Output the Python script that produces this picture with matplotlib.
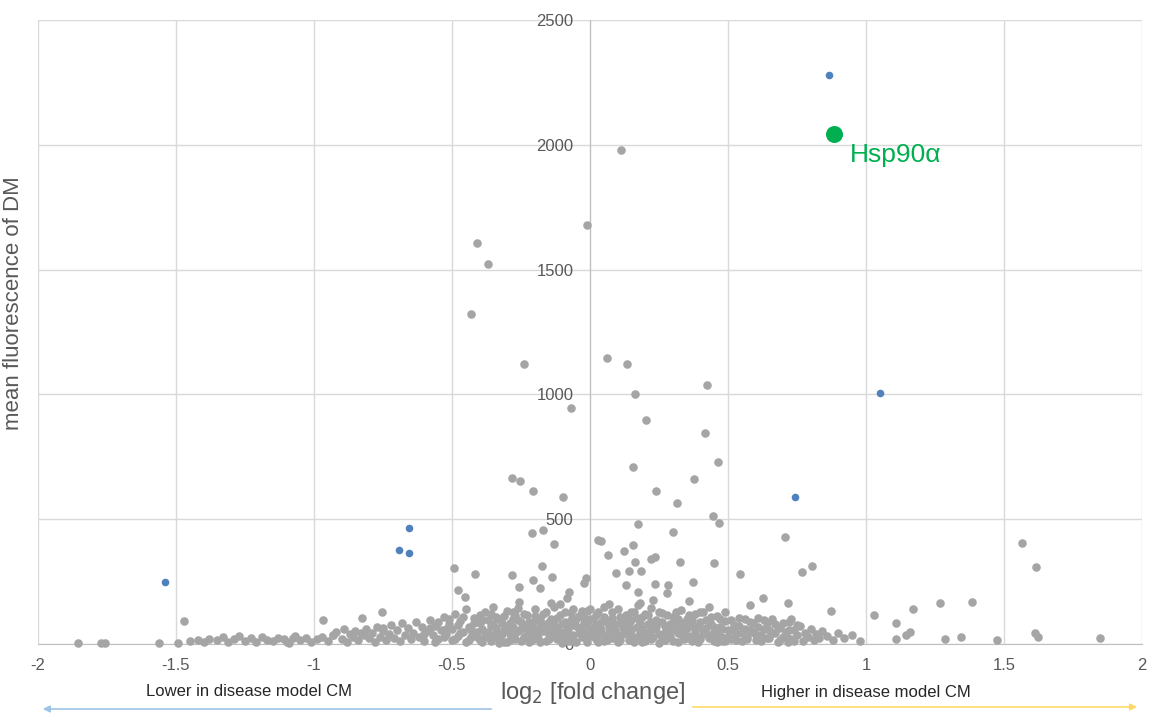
import numpy as np
import matplotlib
matplotlib.use("Agg")
import matplotlib.pyplot as plt

plt.rcParams['font.family'] = ['Liberation Sans', 'DejaVu Sans']

# ---- data ----
# isolated grey proteins above the dense band
outlier_x = [0.112, -0.011, -0.409, -0.370, -0.431, -0.239, -0.069,
             0.062, 0.134, 0.424, 0.163, 0.203, 0.417, 0.156, 0.464, 0.377, 0.239, 0.315,
             -0.283, -0.254, -0.207, -0.098, -0.210, -0.170, -0.130, -0.493, -0.417, -0.174, 0.029,
             0.446, 0.467, 0.174, 0.301, 0.707, 0.040, 0.156, 0.123, 0.065, 0.236,
             0.221, 0.163, 0.326, 0.449, 0.185, 0.094, 0.141, 0.543, 0.768, 0.804,
             0.373, 0.236, 0.130, 0.283, 0.174, 0.279, 0.627, 0.717, 0.580, 0.174, 0.228,
             0.873, 1.029, 1.170, 1.268, 1.384, 1.109, 1.159, 1.145, 1.109, 1.286,
             1.344, 1.475, 1.623, 1.612, 1.848, 1.616, 1.565, 0.717,
             -1.854, -1.770, -1.757, -1.562, -1.493, -1.471, -0.967, -0.931, -0.826, -0.754,
             -0.478, -0.453, -0.284, -0.257, -0.208, -0.181, -0.138, -0.257, -0.143, -0.076,
             -0.083, -0.022, -0.014, -1.076, -1.098]
outlier_y = [1979, 1678, 1606, 1522, 1322, 1122, 945,
             1146, 1122, 1038, 1002, 897, 845, 709, 729, 661, 613, 565,
             665, 653, 613, 589, 445, 457, 401, 304, 280, 312, 417,
             513, 485, 481, 449, 429, 413, 397, 373, 357, 349,
             341, 329, 329, 325, 292, 284, 292, 280, 288, 312,
             248, 240, 236, 236, 208, 204, 184, 164, 156, 156, 176,
             132, 116, 140, 164, 168, 84, 48, 36, 20, 20,
             28, 16, 28, 44, 24, 308, 405, 8,
             4, 4, 4, 4, 4, 92, 96, 36, 104, 128,
             216, 188, 276, 228, 256, 224, 268, 168, 164, 208,
             184, 244, 264, 24, 8]

# dense band of low-fluorescence proteins
band_x = [-1.45, -1.42, -1.40, -1.38, -1.35, -1.33, -1.31, -1.29, -1.27, -1.25,
          -1.23, -1.21, -1.19, -1.17, -1.15, -1.13, -1.11, -1.09, -1.07, -1.05,
          -1.03, -1.01,
          -0.99, -0.97, -0.95, -0.93, -0.92, -0.90, -0.89, -0.88, -0.87, -0.86,
          -0.85, -0.84, -0.83, -0.82, -0.81, -0.80, -0.79, -0.78, -0.77, -0.76,
          -0.75, -0.75, -0.74, -0.73, -0.72, -0.71, -0.70, -0.69, -0.68, -0.67,
          -0.66, -0.65, -0.64, -0.63, -0.62, -0.61, -0.60, -0.59, -0.58, -0.57,
          -0.56, -0.55, -0.54, -0.53, -0.52, -0.51, -0.50, -0.50, -0.49, -0.48,
          -0.47, -0.46, -0.45, -0.45, -0.44, -0.43, -0.42, -0.41, -0.40, -0.40,
          -0.39, -0.38, -0.38, -0.37, -0.36, -0.36, -0.35, -0.34, -0.34, -0.33,
          -0.32, -0.31, -0.30, -0.30, -0.29, -0.28, -0.28, -0.27, -0.26, -0.26,
          -0.25, -0.24, -0.23, -0.23, -0.22, -0.21, -0.20, -0.20, -0.19, -0.18,
          -0.17, -0.17, -0.16, -0.15, -0.15, -0.14, -0.13, -0.12, -0.12, -0.11,
          -0.10, -0.10, -0.09, -0.08, -0.08, -0.07, -0.06, -0.06, -0.05, -0.04,
          -0.04, -0.03, -0.02, -0.02, -0.01, -0.01, 0.00, 0.00, -0.35, -0.31,
          -0.27, -0.24, -0.19, -0.14, -0.11, -0.07, -0.03, -0.22,
          0.01, 0.02, 0.02, 0.03, 0.04, 0.05, 0.05, 0.06, 0.07, 0.08,
          0.08, 0.09, 0.10, 0.10, 0.11, 0.12, 0.13, 0.13, 0.14, 0.15,
          0.16, 0.16, 0.17, 0.18, 0.19, 0.19, 0.20, 0.21, 0.22, 0.22,
          0.23, 0.24, 0.25, 0.25, 0.26, 0.27, 0.28, 0.29, 0.30, 0.30,
          0.31, 0.32, 0.33, 0.33, 0.34, 0.35, 0.36, 0.37, 0.38, 0.38,
          0.39, 0.40, 0.41, 0.42, 0.43, 0.43, 0.44, 0.45, 0.46, 0.46,
          0.47, 0.48, 0.49, 0.50, 0.04, 0.09, 0.14, 0.20, 0.27, 0.34,
          0.41, 0.44, 0.49, 0.07, 0.18, 0.36,
          0.51, 0.52, 0.53, 0.54, 0.55, 0.56, 0.57, 0.58, 0.59, 0.60,
          0.61, 0.62, 0.63, 0.64, 0.65, 0.66, 0.67, 0.68, 0.69, 0.70,
          0.71, 0.72, 0.73, 0.74, 0.75, 0.76, 0.77, 0.78, 0.79, 0.80,
          0.81, 0.82, 0.83, 0.84, 0.86, 0.88, 0.90, 0.92, 0.95, 0.98]
band_y = [12, 18, 8, 22, 15, 28, 10, 20, 32, 14,
          24, 8, 30, 18, 12, 26, 20, 6, 34, 16,
          24, 10,
          20, 30, 12, 36, 48, 22, 60, 8, 40, 28,
          54, 16, 44, 36, 62, 24, 44, 10, 70, 30,
          64, 52, 18, 40, 76, 26, 58, 12, 84, 36,
          64, 20, 46, 90, 30, 70, 14, 52, 96, 38,
          74, 22, 58, 108, 42, 80, 16, 60, 120, 34,
          92, 50, 8, 140, 70, 28, 104, 48, 84, 18,
          62, 130, 36, 96, 14, 74, 150, 46, 110, 24,
          86, 58, 132, 10, 40, 100, 70, 20, 144, 54,
          88, 30, 116, 66, 8, 44, 96, 140, 26, 76,
          52, 120, 14, 90, 38, 64, 150, 22, 104, 48,
          80, 6, 128, 34, 60, 96, 18, 140, 72, 44,
          112, 28, 84, 56, 10, 132, 40, 100, 30, 8,
          118, 78, 60, 28, 160, 12, 70, 50,
          66, 20, 118, 48, 88, 12, 150, 36, 72, 104,
          26, 56, 140, 8, 84, 42, 116, 62, 18, 96,
          30, 130, 70, 50, 10, 108, 36, 82, 144, 22,
          60, 98, 40, 6, 124, 74, 28, 54, 110, 14,
          86, 44, 138, 66, 20, 100, 34, 76, 52, 120,
          10, 90, 40, 64, 150, 24, 80, 48, 112, 8,
          70, 30, 94, 56, 40, 24, 76, 120, 16, 58,
          130, 28, 12, 160, 164, 172,
          20, 78, 40, 104, 12, 60, 30, 88, 50, 16,
          70, 36, 96, 24, 58, 44, 80, 10, 64, 30,
          48, 88, 20, 56, 36, 72, 12, 44, 28, 60,
          18, 40, 26, 52, 34, 16, 44, 24, 36, 14]

# extra proteins filling the core of the band
core_x = [-0.60, -0.58, -0.56, -0.55, -0.53, -0.52, -0.51, -0.49, -0.48, -0.47,
          -0.46, -0.44, -0.43, -0.42, -0.41, -0.40, -0.39, -0.39, -0.37, -0.37,
          -0.36, -0.35, -0.34, -0.33, -0.33, -0.32, -0.31, -0.30, -0.29, -0.29,
          -0.28, -0.27, -0.26, -0.25, -0.25, -0.24, -0.23, -0.22, -0.21, -0.21,
          -0.20, -0.19, -0.18, -0.18, -0.17, -0.16, -0.16, -0.15, -0.14, -0.13,
          -0.13, -0.12, -0.11, -0.10, -0.09, -0.09, -0.08, -0.07, -0.07, -0.06,
          -0.05, -0.05, -0.04, -0.03, -0.03, -0.02, -0.01, -0.01, 0.00, 0.00,
          0.01, 0.01, 0.02, 0.03, 0.03, 0.04, 0.05, 0.06, 0.06, 0.07,
          0.08, 0.09, 0.10, 0.11, 0.11, 0.12, 0.13, 0.14, 0.15, 0.15,
          0.16, 0.17, 0.18, 0.18, 0.19, 0.20, 0.21, 0.21, 0.22, 0.23,
          0.24, 0.25, 0.26, 0.26, 0.27, 0.28, 0.29, 0.29, 0.30, 0.31,
          0.32, 0.32, 0.33, 0.34, 0.35, 0.35, 0.36, 0.37, 0.37, 0.38,
          0.39, 0.40, 0.40, 0.41, 0.42, 0.43, 0.44, 0.45, 0.45, 0.46,
          0.47, 0.48, 0.48, 0.49, 0.50, 0.51, 0.52, 0.53, 0.54, 0.55,
          0.56, 0.57, 0.58, 0.59, 0.60, 0.61, 0.62, 0.63, 0.64, 0.65,
          0.66, 0.67, 0.68, 0.69, 0.70, 0.71, 0.72, 0.73, 0.74, 0.75]
core_y = [40, 66, 10, 88, 30, 62, 100, 20, 76, 44,
          110, 16, 56, 84, 30, 116, 8, 98, 50, 28,
          120, 82, 64, 100, 6, 40, 112, 66, 86, 18,
          130, 44, 96, 14, 62, 122, 36, 90, 68, 16,
          112, 46, 100, 10, 80, 58, 130, 20, 100, 40,
          78, 62, 118, 28, 90, 48, 14, 124, 76, 36,
          100, 10, 64, 134, 44, 104, 22, 80, 60, 140,
          32, 100, 76, 8, 130, 60, 110, 90, 16, 50,
          128, 80, 36, 110, 18, 66, 92, 40, 130, 58,
          8, 104, 28, 84, 60, 12, 116, 50, 90, 30,
          70, 128, 16, 88, 48, 116, 80, 32, 60, 130,
          8, 100, 40, 84, 24, 64, 118, 12, 96, 38,
          72, 20, 130, 56, 96, 36, 110, 14, 70, 40,
          100, 60, 12, 128, 30, 96, 54, 16, 72, 44,
          100, 20, 58, 84, 36, 104, 12, 60, 84, 24,
          100, 44, 70, 18, 86, 34, 56, 100, 14, 76]

# significant hits (blue)
hit_x = [0.866, 1.051, 0.743, -0.656, -0.692, -0.656, -1.540]
hit_y = [2279, 1005, 589, 465, 377, 365, 248]

# highlighted protein
hsp_x = [0.884]
hsp_y = [2043]
hsp_label = "Hsp90α"

x_ticks = [-2, -1.5, -1, -0.5, 0, 0.5, 1, 1.5, 2]
x_ticklabels = ["-2", "-1.5", "-1", "-0.5", "0", "0.5", "1", "1.5", "2"]
y_ticks = [0, 500, 1000, 1500, 2000, 2500]

grey = "#a5a5a5"
blue = "#4f81bd"
green = "#00b050"
label_grey = "#595959"
grid_grey = "#d9d9d9"

fig = plt.figure(figsize=(11.52, 7.15), dpi=100)
ax = fig.add_axes([38 / 1152, 1 - 644 / 715, (1142 - 38) / 1152, (644 - 20) / 715])

ax.scatter(band_x, band_y, s=38, color=grey, linewidths=0, zorder=3, clip_on=False)
ax.scatter(core_x, core_y, s=38, color=grey, linewidths=0, zorder=3, clip_on=False)
ax.scatter(outlier_x, outlier_y, s=38, color=grey, linewidths=0, zorder=3, clip_on=False)
ax.scatter(hit_x, hit_y, s=30, color=blue, linewidths=0, zorder=4)
ax.scatter(hsp_x, hsp_y, s=150, color=green, linewidths=0, zorder=5)
ax.text(hsp_x[0] + 0.058, hsp_y[0] - 85, hsp_label, color=green, fontsize=19,
        va='center', ha='left', zorder=6)

ax.set_xlim(-2, 2)
ax.set_ylim(0, 2500)
ax.set_xticks(x_ticks)
ax.set_xticklabels(x_ticklabels)
ax.set_yticks(y_ticks)

ax.grid(True, color=grid_grey, linewidth=1)
ax.set_axisbelow(True)

# y axis sits on x = 0
ax.spines['left'].set_position(('data', 0))
ax.spines['left'].set_color("#bfbfbf")
ax.spines['bottom'].set_color("#bfbfbf")
ax.spines['top'].set_visible(False)
ax.spines['right'].set_visible(False)
ax.tick_params(axis='both', length=0, labelsize=12, labelcolor=label_grey)
ax.tick_params(axis='y', pad=12)
ax.tick_params(axis='x', pad=10)

fig.text(14 / 1152, 1 - 303 / 715, "mean fluorescence of DM", rotation=90,
         ha='center', va='center', fontsize=16, color=label_grey)
fig.text(593 / 1152, 1 - 693 / 715, r"log$_2$ [fold change]",
         ha='center', va='center', fontsize=17, color=label_grey)
fig.text(249 / 1152, 1 - 692 / 715, "Lower in disease model CM",
         ha='center', va='center', fontsize=12, color="#262626")
fig.text(866 / 1152, 1 - 692 / 715, "Higher in disease model CM",
         ha='center', va='center', fontsize=12, color="#262626")

# direction arrows under the axis
fig.patches.append(matplotlib.patches.FancyArrowPatch(
    (494 / 1152, 1 - 709 / 715), (40 / 1152, 1 - 709 / 715),
    transform=fig.transFigure, arrowstyle='-|>', mutation_scale=10,
    color="#9dc3e6", linewidth=1.2))
fig.patches.append(matplotlib.patches.FancyArrowPatch(
    (690 / 1152, 1 - 707 / 715), (1140 / 1152, 1 - 707 / 715),
    transform=fig.transFigure, arrowstyle='-|>', mutation_scale=10,
    color="#ffd966", linewidth=1.2))

fig.savefig("out.png", dpi=100, facecolor="white")
